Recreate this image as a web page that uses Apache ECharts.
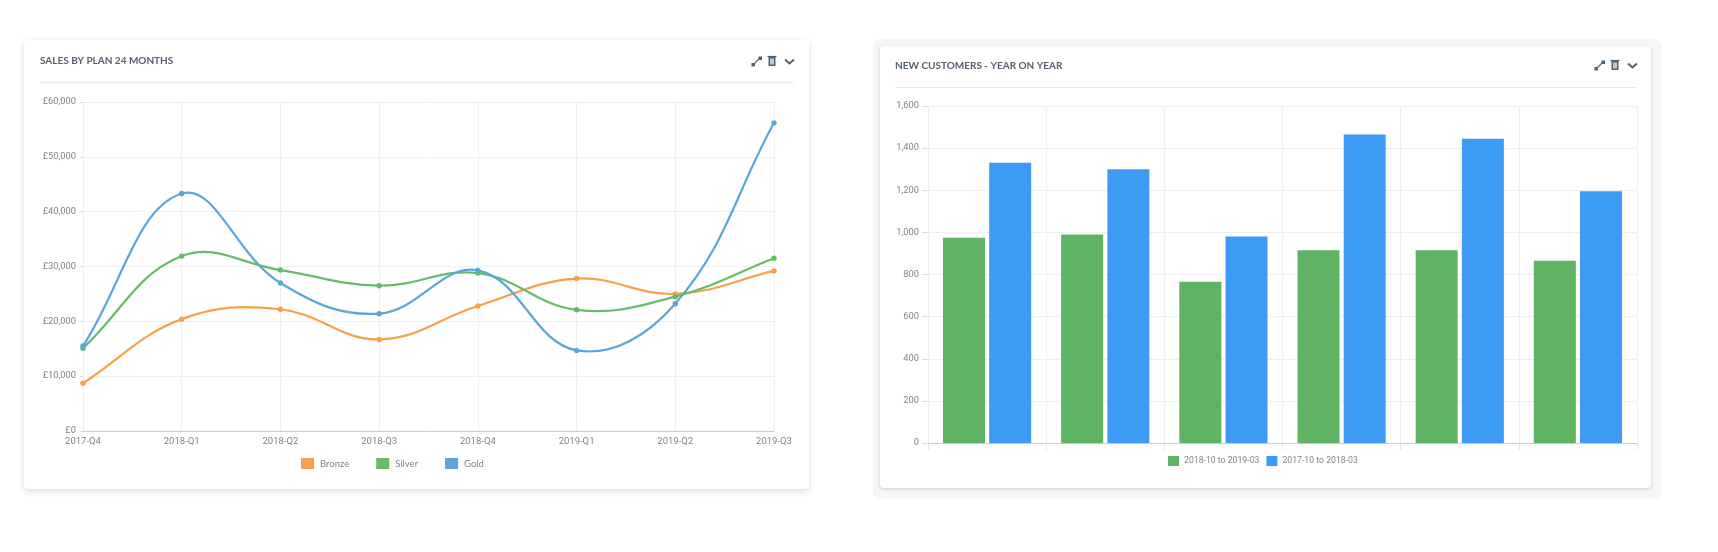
<!DOCTYPE html>
<html>
<head>
<meta charset="utf-8">
<script src="https://cdn.jsdelivr.net/npm/echarts@6/dist/echarts.min.js"></script>
<style>
  html, body { margin: 0; padding: 0; background: #fff; }
  #page { position: relative; width: 1718px; height: 552px; overflow: hidden; filter: blur(0.4px); }
  .card { position: absolute; background: #fff; border-radius: 4px; }
  #card1 { left: 24px; top: 40px; width: 785px; height: 449px; box-shadow: 0 2px 7px rgba(70, 80, 100, 0.22); }
  #panel2 { position: absolute; left: 873px; top: 39px; width: 789px; height: 460px; background: #f4f6f8; border-radius: 8px; }
  #card2 { left: 880px; top: 46px; width: 771px; height: 442px; box-shadow: 0 1px 3px rgba(70, 80, 100, 0.25); }
  .rule { position: absolute; height: 1px; background: #e8eaed; }
  #main { position: absolute; left: 0; top: 0; width: 1718px; height: 552px; }
</style>
</head>
<body>
<div id="page">
  <div class="card" id="card1"></div>
  <div id="panel2"></div>
  <div class="card" id="card2"></div>
  <div class="rule" style="left:40px;top:82px;width:754px"></div>
  <div class="rule" style="left:895px;top:87px;width:742px"></div>
  <div id="main"></div>
</div>
<script>
const quarters = ['2017-Q4', '2018-Q1', '2018-Q2', '2018-Q3', '2018-Q4', '2019-Q1', '2019-Q2', '2019-Q3']
const bronze = [8700, 20400, 22200, 16700, 22800, 27800, 25000, 29200]
const silver = [15100, 31900, 29350, 26500, 28800, 22100, 24500, 31500]
const gold = [15500, 43300, 27000, 21400, 29300, 14700, 23200, 56200]

const customerGroups = ['', '', '', '', '', '']
const customersRecent = [975, 990, 765, 915, 915, 865]
const customersPrior = [1330, 1300, 980, 1465, 1445, 1195]

const FONT = 'Roboto, sans-serif'
const LABEL_COLOR = '#808488'
const GRID_COLOR = '#eeeff1'
const ICON_COLOR = '#4f6272'
const CURVE_TENSION = 0.4

const chart = echarts.init(document.querySelector('#main'), null, { renderer: 'canvas' })

// ECharts' own smooth line clamps control points and loses the overshoot of the
// original curves, so each segment is drawn here, positions still come from api.coord
function curveSeries (name, values, color) {
  return {
    name,
    type: 'custom',
    xAxisIndex: 0,
    yAxisIndex: 0,
    data: values.map((v, i) => [i, v]),
    encode: { x: 0, y: 1 },
    clip: false,
    animation: false,
    itemStyle: { color },
    renderItem (params, api) {
      const i = params.dataIndex
      const pts = values.map((v, idx) => api.coord([idx, v]))
      const dot = { type: 'circle', shape: { cx: pts[i][0], cy: pts[i][1], r: 2.7 }, style: { fill: color }, z2: 5 }
      if (i === pts.length - 1) {
        return dot
      }
      const out = controlOut(pts, i)
      const into = controlIn(pts, i + 1)
      return {
        type: 'group',
        children: [
          {
            type: 'bezierCurve',
            shape: {
              x1: pts[i][0], y1: pts[i][1],
              cpx1: out[0], cpy1: out[1],
              cpx2: into[0], cpy2: into[1],
              x2: pts[i + 1][0], y2: pts[i + 1][1]
            },
            style: { stroke: color, fill: null, lineWidth: 2.2 }
          },
          dot
        ]
      }
    }
  }
}

function splineFactors (pts, i) {
  const prev = pts[i - 1] || pts[i]
  const next = pts[i + 1] || pts[i]
  const d01 = Math.hypot(pts[i][0] - prev[0], pts[i][1] - prev[1])
  const d12 = Math.hypot(next[0] - pts[i][0], next[1] - pts[i][1])
  const sum = (d01 + d12) || 1
  return { prev, next, fa: CURVE_TENSION * d01 / sum, fb: CURVE_TENSION * d12 / sum }
}

function controlOut (pts, i) {
  const { prev, next, fb } = splineFactors(pts, i)
  return [pts[i][0] + fb * (next[0] - prev[0]), pts[i][1] + fb * (next[1] - prev[1])]
}

function controlIn (pts, i) {
  const { prev, next, fa } = splineFactors(pts, i)
  return [pts[i][0] - fa * (next[0] - prev[0]), pts[i][1] - fa * (next[1] - prev[1])]
}

function barSeries (name, data, color) {
  return {
    name,
    data,
    type: 'bar',
    xAxisIndex: 1,
    yAxisIndex: 1,
    barWidth: 42,
    barGap: '10%',
    animation: false,
    itemStyle: { color }
  }
}

// the three little header buttons, x is the left edge of the group
function headerIcons (x, y) {
  return [
    { type: 'line', shape: { x1: x + 1, y1: y + 7, x2: x + 8, y2: y }, style: { stroke: ICON_COLOR, lineWidth: 1.1 } },
    { type: 'rect', shape: { x: x - 0.5, y: y + 5, width: 3.5, height: 3.5 }, style: { fill: ICON_COLOR } },
    { type: 'rect', shape: { x: x + 6.5, y: y - 1.5, width: 3.5, height: 3.5 }, style: { fill: ICON_COLOR } },
    { type: 'rect', shape: { x: x + 16.5, y: y - 1, width: 7, height: 9 }, style: { fill: ICON_COLOR } },
    { type: 'rect', shape: { x: x + 18, y: y + 0.5, width: 4, height: 6 }, style: { fill: '#c3cbd2' } },
    { type: 'line', shape: { x1: x + 15.5, y1: y - 1.5, x2: x + 24.5, y2: y - 1.5 }, style: { stroke: ICON_COLOR, lineWidth: 1.2 } },
    { type: 'polyline', shape: { points: [[x + 33, y + 1.5], [x + 37.5, y + 5.5], [x + 42, y + 1.5]] }, style: { stroke: ICON_COLOR, fill: 'none', lineWidth: 2 } }
  ]
}

chart.setOption({
  animation: false,
  backgroundColor: 'transparent',
  title: [
    { text: 'SALES BY PLAN 24 MONTHS', left: 40, top: 56, padding: 0, textStyle: { fontFamily: 'Lato', fontSize: 10, fontWeight: 'bold', color: '#55616d' } },
    { text: 'NEW CUSTOMERS - YEAR ON YEAR', left: 895, top: 61, padding: 0, textStyle: { fontFamily: 'Lato', fontSize: 10, fontWeight: 'bold', color: '#55616d' } }
  ],
  grid: [
    { left: 83, top: 102, width: 691, height: 329 },
    { left: 928, top: 106, width: 709, height: 337 }
  ],
  legend: [
    {
      data: ['Bronze', 'Silver', 'Gold'],
      left: 301,
      top: 458,
      padding: 0,
      itemWidth: 13,
      itemHeight: 11,
      itemGap: 27,
      icon: 'rect',
      textStyle: { fontFamily: 'Lato', fontSize: 9.5, color: LABEL_COLOR, padding: [0, 0, 0, 1] }
    },
    {
      data: ['2018-10 to 2019-03', '2017-10 to 2018-03'],
      left: 1168,
      top: 456,
      padding: 0,
      itemWidth: 11,
      itemHeight: 10,
      itemGap: 7,
      icon: 'rect',
      textStyle: { fontFamily: FONT, fontSize: 8.7, color: LABEL_COLOR }
    }
  ],
  xAxis: [
    {
      gridIndex: 0,
      type: 'category',
      data: quarters,
      boundaryGap: false,
      axisLine: { lineStyle: { color: '#c9ccd0' } },
      axisTick: { show: false },
      axisLabel: { fontFamily: FONT, fontSize: 9.5, color: LABEL_COLOR, margin: 6 },
      splitLine: { show: true, lineStyle: { color: GRID_COLOR } }
    },
    {
      gridIndex: 1,
      type: 'category',
      data: customerGroups,
      axisLine: { lineStyle: { color: '#c9ccd0' } },
      axisTick: { show: true, length: 7, lineStyle: { color: '#e4e6e8' } },
      axisLabel: { show: false },
      splitLine: { show: true, lineStyle: { color: GRID_COLOR } }
    }
  ],
  yAxis: [
    {
      gridIndex: 0,
      type: 'value',
      min: 0,
      max: 60000,
      interval: 10000,
      axisLine: { show: false },
      axisTick: { show: true, length: 3, lineStyle: { color: '#d8dadd' } },
      axisLabel: {
        fontFamily: FONT,
        fontSize: 9.3,
        color: LABEL_COLOR,
        margin: 7,
        formatter: v => '£' + v.toLocaleString('en-GB')
      },
      splitLine: { lineStyle: { color: GRID_COLOR } }
    },
    {
      gridIndex: 1,
      type: 'value',
      min: 0,
      max: 1600,
      interval: 200,
      axisLine: { show: false },
      axisTick: { show: true, length: 6, lineStyle: { color: '#d8dadd' } },
      axisLabel: {
        fontFamily: FONT,
        fontSize: 9.3,
        color: LABEL_COLOR,
        margin: 9,
        formatter: v => v.toLocaleString('en-GB')
      },
      splitLine: { lineStyle: { color: GRID_COLOR } }
    }
  ],
  series: [
    curveSeries('Bronze', bronze, '#f7a24b'),
    curveSeries('Silver', silver, '#67bb6b'),
    curveSeries('Gold', gold, '#5ba6d8'),
    barSeries('2018-10 to 2019-03', customersRecent, '#60b265'),
    barSeries('2017-10 to 2018-03', customersPrior, '#3d9bf5')
  ],
  graphic: { elements: [...headerIcons(752, 58), ...headerIcons(1595, 62)] }
})
</script>
</body>
</html>
